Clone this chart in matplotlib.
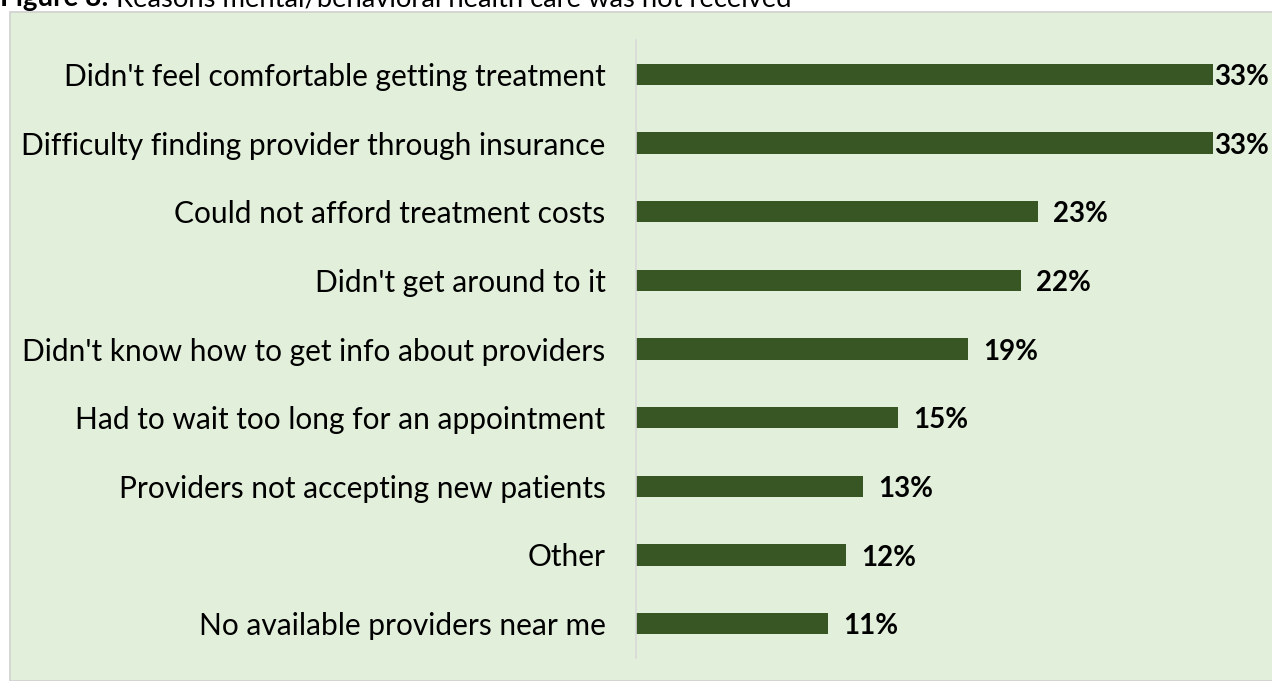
import matplotlib
matplotlib.use('Agg')
import matplotlib.pyplot as plt
from matplotlib.patches import Rectangle

reasons = [
    "Didn't feel comfortable getting treatment",
    "Difficulty finding provider through insurance",
    "Could not afford treatment costs",
    "Didn't get around to it",
    "Didn't know how to get info about providers",
    "Had to wait too long for an appointment",
    "Providers not accepting new patients",
    "Other",
    "No available providers near me",
]
percents = [33, 33, 23, 22, 19, 15, 13, 12, 11]

bar_color = "#375623"
panel_color = "#E2EFDA"

plt.rcParams['font.family'] = ['Lato', 'DejaVu Sans']

W, H = 1272, 681
fig = plt.figure(figsize=(W / 100, H / 100), dpi=100)
fig.patch.set_facecolor("white")

# light green panel behind the chart
fig.patches.append(Rectangle((10 / W, 0), 1.0, 1 - 12 / H, transform=fig.transFigure,
                             facecolor=panel_color, edgecolor="#D0D0D0", linewidth=1.2,
                             zorder=-10))

# title, sitting right at the top edge
t1 = fig.text(0.0, 1 - 6 / H, "Figure 8:", fontsize=20, fontweight="bold",
              va="baseline", ha="left")
r = fig.canvas.get_renderer()
x_next = t1.get_window_extent(r).x1 + 8
fig.text(x_next / W, 1 - 6 / H, "Reasons mental/behavioral health care was not received",
         fontsize=19.7, va="baseline", ha="left")

x0, x1 = 636, 636 + 36 * 17.48
y_top, y_bot = 40, 658
ax = fig.add_axes([x0 / W, 1 - y_bot / H, (x1 - x0) / W, (y_bot - y_top) / H])
ax.set_facecolor("none")

pos = list(range(len(reasons)))
ax.barh(pos, percents, height=0.31, color=bar_color)
ax.set_xlim(0, 36)
ax.set_ylim(len(reasons) - 0.5, -0.5)

top = max(percents)
for p, v in zip(pos, percents):
    pad = 1 if v == top else 11
    ax.annotate(f"{v}%", (v, p), xytext=(pad, -2), textcoords="offset points",
                va="center", ha="left", fontsize=20, fontweight="bold",
                annotation_clip=False)

ax.set_yticks(pos)
ax.set_yticklabels(reasons, fontsize=21.5)
ax.tick_params(axis="y", length=0, pad=22)
ax.set_xticks([])
for side in ["top", "right", "bottom"]:
    ax.spines[side].set_visible(False)
ax.spines["left"].set_color("#D9D9D9")
ax.spines["left"].set_linewidth(1.2)

fig.savefig("out.png", dpi=100)
plt.close(fig)
